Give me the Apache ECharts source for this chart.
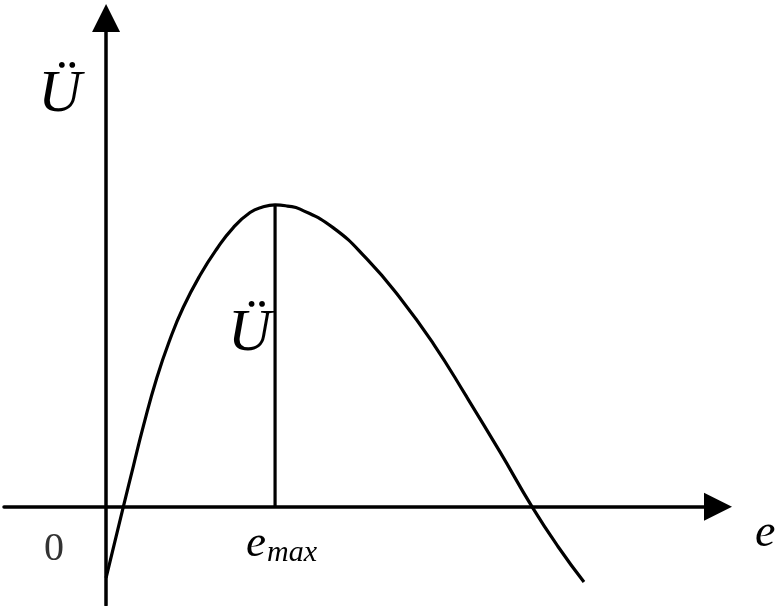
<!DOCTYPE html>
<html>
<head>
<meta charset="utf-8">
<script src="https://cdn.jsdelivr.net/npm/echarts@6/dist/echarts.min.js"></script>
<style>
html,body{margin:0;padding:0;background:#fff;}
#c{width:781px;height:606px;}
</style>
</head>
<body>
<div id="c"></div>
<script>
// normalized strain e (e_max = 1) and energy U (U_max = 1)
var eValues = [0, 0.102, 0.162, 0.221, 0.300, 0.379, 0.457, 0.556, 0.655, 0.753, 0.852, 0.926, 1.0, 1.074, 1.148, 1.345, 1.543, 1.740, 1.937, 2.134, 2.331, 2.521, 2.675, 2.828];
var uValues = [-0.235, 0, 0.136, 0.268, 0.427, 0.556, 0.661, 0.767, 0.854, 0.925, 0.975, 0.993, 1.0, 0.996, 0.986, 0.924, 0.821, 0.692, 0.540, 0.364, 0.182, 0, -0.132, -0.249];
var eMax = 1.0;
var uMax = 1.0;
var xRange = [-0.604, 3.621];
var yRange = [-0.325, 1.619];

var curve = eValues.map(function (e, i) { return [e, uValues[i]]; });
var peakLine = [[eMax, 0], [eMax, uMax]];

var serif = '"Liberation Serif","Times New Roman",serif';
// label text, anchor in data units (left / middle of text)
var labels = [
  {text: 'Ü', at: [-0.402, 1.364], size: 60, italic: true, color: '#000'},
  {text: 'Ü', at: [0.722, 0.573], size: 60, italic: true, color: '#000'},
  {text: 'e', at: [0.828, -0.124], size: 45, italic: true, color: '#000'},
  {text: 'max', at: [0.953, -0.152], size: 30, italic: true, color: '#000'},
  {text: 'e', at: [3.840, -0.091], size: 46, italic: true, color: '#000'},
  {text: '0', at: [-0.367, -0.142], size: 40, italic: false, color: '#333'}
];

var chart = echarts.init(document.getElementById('c'), null, {renderer: 'canvas'});
var option = {
  animation: false,
  backgroundColor: '#fff',
  grid: {left: 4, right: 63, top: 18, bottom: 1, containLabel: false},
  xAxis: {
    type: 'value', min: xRange[0], max: xRange[1],
    axisLine: {onZero: true, lineStyle: {color: '#000', width: 3.5}, symbol: ['none', 'triangle'], symbolSize: [28, 28]},
    axisTick: {show: false}, axisLabel: {show: false}, splitLine: {show: false}
  },
  yAxis: {
    type: 'value', min: yRange[0], max: yRange[1],
    axisLine: {onZero: true, lineStyle: {color: '#000', width: 3.5}, symbol: ['none', 'triangle'], symbolSize: [28, 28]},
    axisTick: {show: false}, axisLabel: {show: false}, splitLine: {show: false}
  },
  series: [
    {type: 'line', data: curve, smooth: 0.5, showSymbol: false, lineStyle: {color: '#000', width: 3.2}},
    {type: 'line', data: peakLine, showSymbol: false, lineStyle: {color: '#000', width: 3.2}}
  ]
};
chart.setOption(option);

var g = labels.map(function (l) {
  var p = chart.convertToPixel({gridIndex: 0}, l.at);
  return {
    type: 'text', x: p[0], y: p[1], z: 100,
    style: {
      text: l.text, fill: l.color,
      font: (l.italic ? 'italic ' : '') + l.size + 'px ' + serif,
      align: 'left', verticalAlign: 'middle'
    }
  };
});
chart.setOption({graphic: g});
</script>
</body>
</html>
